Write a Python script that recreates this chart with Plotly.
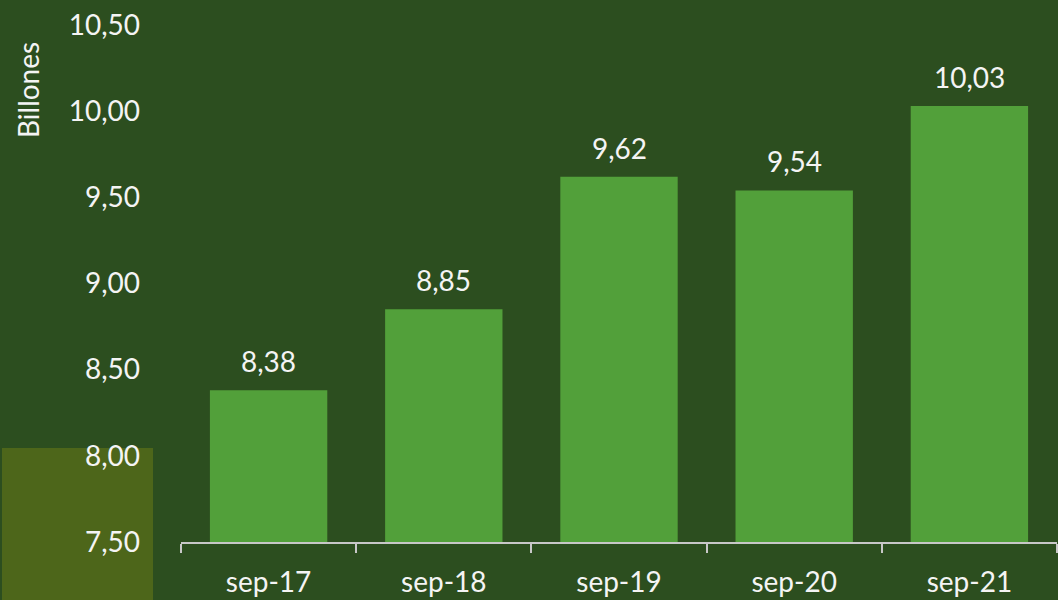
import plotly.graph_objects as go

categories = ["sep-17", "sep-18", "sep-19", "sep-20", "sep-21"]
values = [8.38, 8.85, 9.62, 9.54, 10.03]
y_ticks = [7.5, 8.0, 8.5, 9.0, 9.5, 10.0, 10.5]

BG = "#2c4e1f"
BAR = "#52a03a"
OLIVE = "#4d661a"
TXT = "#f4f4f4"
FONT = "Lato"
FS = 28

W, H = 1058, 600
L, R, T, B = 181, 1, 25, 58
pw = W - L - R
ph = H - T - B

fig = go.Figure()
fig.add_trace(go.Bar(
    x=categories, y=values, marker_color=BAR, marker_line_width=0,
    hoverinfo="x+y",
))

for c, v in zip(categories, values):
    fig.add_annotation(x=c, y=v, text=f"{v:.2f}".replace(".", ","),
                       showarrow=False, yanchor="bottom", yshift=10,
                       font=dict(color=TXT, size=FS, family=FONT))

# olive decorative block at bottom-left
fig.add_shape(type="rect", xref="paper", yref="paper", layer="below",
              x0=(2 - L) / pw, x1=(153 - L) / pw,
              y0=(H - B - 600) / ph, y1=(H - B - 448) / ph,
              fillcolor=OLIVE, line_width=0)

fig.add_annotation(text="Billones", xref="paper", yref="paper",
                   x=(28 - L) / pw, y=(H - B - 90) / ph, textangle=-90,
                   showarrow=False, xanchor="center", yanchor="middle",
                   font=dict(color=TXT, size=28, family=FONT))

fig.update_layout(
    width=W, height=H, paper_bgcolor=BG, plot_bgcolor=BG,
    margin=dict(l=L, r=R, t=T, b=B),
    bargap=0.33, separators=",.", showlegend=False,
    font=dict(family=FONT, color=TXT, size=FS),
)
fig.update_yaxes(range=[7.5, 10.5], tickvals=y_ticks, tickformat=".2f",
                 showgrid=False, zeroline=False, showline=False,
                 ticklabelstandoff=40, tickfont=dict(size=FS, color=TXT))
fig.update_xaxes(showline=True, linecolor="#c8c8c8", linewidth=2,
                 ticks="outside", tickson="boundaries", ticklen=9,
                 tickcolor="#c8c8c8", tickwidth=2, showgrid=False,
                 tickfont=dict(size=FS, color=TXT), ticklabelstandoff=14)

fig.write_html("out.html", config={"displayModeBar": False},
               post_script="document.body.style.margin='0';document.body.style.background='" + BG + "';")
